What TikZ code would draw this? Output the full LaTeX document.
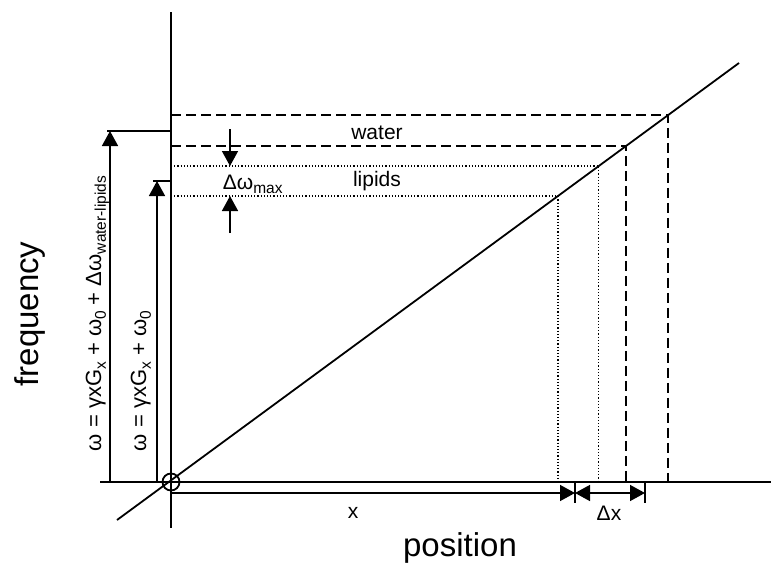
\documentclass[tikz,border=0pt]{standalone}
\usepackage{fontspec}
\setmainfont{Liberation Sans}
\usetikzlibrary{arrows.meta,calc}
\newcommand\mysub[1]{\raisebox{-0.22em}{\fontsize{15.5}{18}\selectfont #1}}
\begin{document}
\begin{tikzpicture}[x=1pt,y=-1pt,line width=1.8pt,
  arr/.style={line width=1.5pt,-{Triangle[length=15pt,width=16pt]}},
  darr/.style={line width=1.5pt,{Triangle[length=15pt,width=16pt]}-{Triangle[length=15pt,width=16pt]}},
  dsh/.style={line width=1.5pt,dash pattern=on 10pt off 5pt},
  dts/.style={line width=1.3pt,dash pattern=on 1.2pt off 2pt},
  lbl/.style={font=\fontsize{21}{24}\selectfont,inner sep=0pt},
  eql/.style={font=\fontsize{22}{25}\selectfont,inner sep=0pt},
  big/.style={font=\fontsize{33}{38}\selectfont,inner sep=0pt}]
\useasboundingbox (0,0) rectangle (771,565);
% axes
\coordinate (O) at (171,482);
\coordinate (ytop) at (171,12);
\coordinate (ybot) at (171,528);
\coordinate (xl) at (100,482);
\coordinate (xr) at (771,482);
\draw (ytop) -- (ybot);
\draw (xl) -- (xr);
\draw (O) circle (8.5);
% diagonal
\coordinate (ds) at (117,520);
\coordinate (de) at (739,63);
\draw (ds) -- (de);
% intersections
\coordinate (w1) at ($(ds)!0.8862!(de)$);
\coordinate (w2) at ($(ds)!0.8184!(de)$);
\coordinate (l1) at ($(ds)!0.7746!(de)$);
\coordinate (l2) at ($(ds)!0.7090!(de)$);
\draw[dsh] (w1 -| O) -- (w1) -- (w1 |- O);
\draw[dsh] (w2 -| O) -- (w2) -- (w2 |- O);
\draw[dts] (l1 -| O) -- (l1) -- (l1 |- O);
\draw[dts] (l2 -| O) -- (l2) -- (l2 |- O);
% left arrows
\coordinate (a1b) at (110,482);
\coordinate (a1t) at (110,131);
\coordinate (a1l) at (107,131);
\draw[arr] (a1b) -- (a1t);
\draw (a1l) -- (a1l -| O);
\coordinate (a2b) at (157,482);
\coordinate (a2t) at (157,181);
\coordinate (a2l) at (153,181);
\draw[arr] (a2b) -- (a2t);
\draw (a2l) -- (a2l -| O);
% delta omega arrows
\coordinate (d1s) at (230,129);
\coordinate (d1e) at (230,166);
\coordinate (d2s) at (230,233);
\coordinate (d2e) at (230,196);
\draw[arr] (d1s) -- (d1e);
\draw[arr] (d2s) -- (d2e);
% bottom arrows
\coordinate (b0) at (171,493);
\coordinate (b1) at (575,493);
\coordinate (b2) at (645,493);
\draw[arr] (b0) -- (b1);
\draw[darr] (b1) -- (b2);
\draw[line width=1.5pt] (575,482) -- (575,503);
\draw[line width=1.5pt] (645,482) -- (645,503);
% labels
\node[lbl,anchor=base] (water) at (377,139) {water};
\node[lbl,anchor=base] (lipids) at (377,186) {lipids};
\node[lbl,anchor=base west] (dwmax) at (222,189) {Δω\mysub{max}};
\node[lbl,anchor=base] (xlab) at (353,518) {x};
\node[lbl,anchor=base] (dxlab) at (609,520) {Δx};
\node[eql,anchor=base west,rotate=90] (eq1) at (101,452) {ω = γxG\mysub{x} + ω\mysub{0} + Δω\mysub{water-lipids}};
\node[eql,anchor=base west,rotate=90] (eq2) at (146,452) {ω = γxG\mysub{x} + ω\mysub{0}};
\node[big,anchor=base,rotate=90] (freq) at (38,314) {frequency};
\node[big,anchor=base] (pos) at (460,556) {position};
\end{tikzpicture}
\end{document}
